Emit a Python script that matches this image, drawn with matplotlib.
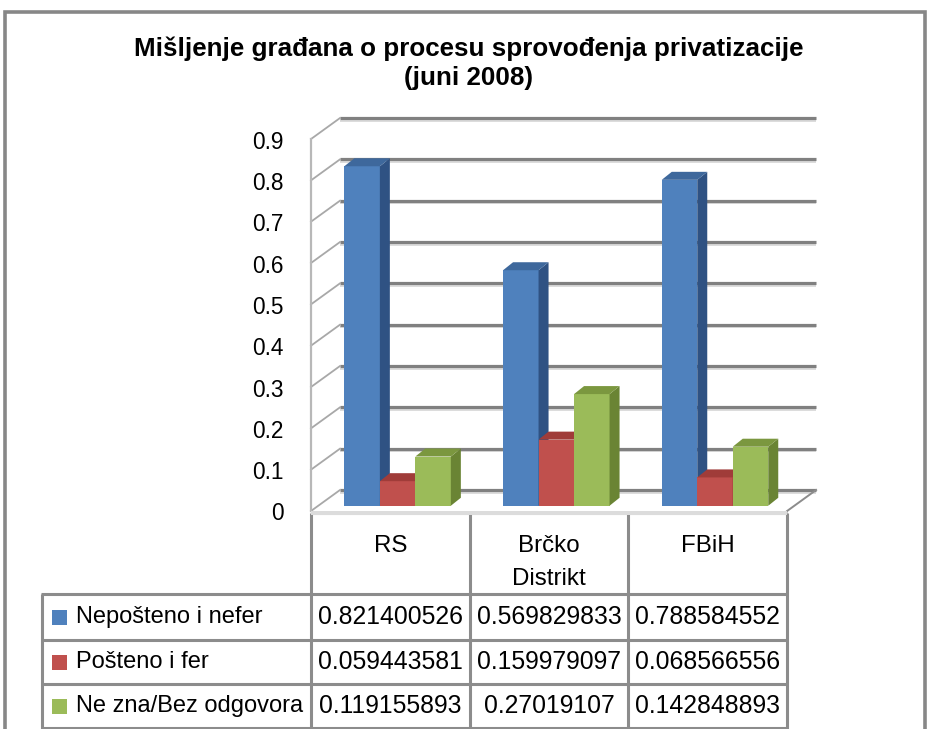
import matplotlib
matplotlib.use("Agg")
import matplotlib.pyplot as plt
from matplotlib.patches import Polygon, Rectangle
from matplotlib import font_manager as fm

# ---------------- data ----------------
title_text = "Mišljenje građana o procesu sprovođenja privatizacije\n(juni 2008)"
categories = ["RS", "Brčko Distrikt", "FBiH"]
series_names = ["Nepošteno i nefer", "Pošteno i fer", "Ne zna/Bez odgovora"]
nepsteno_i_nefer = [0.821400526, 0.569829833, 0.788584552]
posteno_i_fer = [0.059443581, 0.159979097, 0.068566556]
ne_zna_bez_odgovora = [0.119155893, 0.27019107, 0.142848893]
y_ticks = [0, 0.1, 0.2, 0.3, 0.4, 0.5, 0.6, 0.7, 0.8, 0.9]

series_values = [nepsteno_i_nefer, posteno_i_fer, ne_zna_bez_odgovora]

# ---------------- style ----------------
front_colors = ["#4F81BD", "#C0504D", "#9BBB59"]
side_colors = ["#2F5283", "#8C3230", "#6A8434"]
top_colors = ["#3E689C", "#A03C39", "#7B973F"]
grid_col = "#808080"
line_col = "#8C8C8C"

W_PX, H_PX, DPI = 940, 729, 100
fig = plt.figure(figsize=(W_PX / DPI, H_PX / DPI), dpi=DPI)
fig.patch.set_facecolor("white")

names = {f.name for f in fm.fontManager.ttflist}
if "Liberation Sans Narrow" in names:
    body_family = ["Liberation Sans Narrow", "DejaVu Sans"]
    k = 1.0 / 0.82
else:
    body_family = ["Liberation Sans", "DejaVu Sans"]
    k = 1.0
axis_size = 16.3 * k
cat_size = 17.4 * k
legend_size = 17.0 * k
value_size = 17.8 * k
title_family = ["Liberation Sans", "DejaVu Sans"]
title_size = 18.7

# ---------------- geometry (pixels) ----------------
PXC = 158.7   # pixels per category unit
PXV = 413.3   # pixels per value unit
X0 = 311.0    # pixel x of the floor's front-left corner
Y0 = 511.0    # pixel y (from top) of the floor's front edge

ax = fig.add_axes([0, 0, 1, 1])
ax.set_xlim(-0.5 - X0 / PXC, -0.5 + (W_PX - X0) / PXC)
ax.set_ylim((Y0 - H_PX) / PXV, Y0 / PXV)
ax.axis("off")
ax.set_facecolor("none")

ncat = len(categories)
nser = len(series_values)
x_lo, x_hi = -0.5, ncat - 0.5
DX, DY = 29 / PXC, 21 / PXV        # wall depth
BDX, BDY = 10 / PXC, 8 / PXV       # bar depth
SX, SY = 0.25 * DX, 0.25 * DY      # bars set back from floor front
BW = 35.5 / PXC                    # bar width

# walls and gridlines
for t in y_ticks:
    ax.plot([x_lo + DX, x_hi + DX], [t + DY - 2.5 / PXV] * 2, color="#D6D6D6",
            lw=1.2, solid_capstyle="butt", zorder=1)
    ax.plot([x_lo + DX, x_hi + DX], [t + DY] * 2, color=grid_col, lw=2.3,
            solid_capstyle="butt", zorder=2)
    ax.plot([x_lo, x_lo + DX], [t, t + DY], color="#A8A8A8", lw=1.3, zorder=2)
ax.plot([x_lo, x_lo], [0, y_ticks[-1]], color="#B8B8B8", lw=1.6, zorder=2)
ax.plot([x_hi, x_hi + DX], [0, DY], color="#8C8C8C", lw=1.4, zorder=2)
ax.add_patch(Rectangle((x_lo, -4 / PXV), x_hi - x_lo, 4 / PXV,
                       facecolor="#DCDCDC", edgecolor="none", zorder=2))

# bars
for j in range(ncat):
    for i in range(nser):
        v = series_values[i][j]
        xl = j + (i - nser / 2) * BW + SX
        xr = xl + BW
        top = SY + v
        z = 5 + j * 10 + i * 3
        ax.bar(xl, v, width=BW, bottom=SY, align="edge", color=front_colors[i],
               linewidth=0, zorder=z)
        ax.add_patch(Polygon([(xr, SY), (xr + BDX, SY + BDY), (xr + BDX, top + BDY),
                              (xr, top)], closed=True, facecolor=side_colors[i],
                             edgecolor="none", zorder=z + 1))
        ax.add_patch(Polygon([(xl, top), (xr, top), (xr + BDX, top + BDY),
                              (xl + BDX, top + BDY)], closed=True,
                             facecolor=top_colors[i], edgecolor="none", zorder=z + 2))

# value axis labels
for t in y_ticks:
    ax.text(x_lo - 27 / PXC, t - 3 / PXV, f"{t:g}", ha="right", va="center",
            fontsize=axis_size, family=body_family, color="black")

# ---------------- layout canvas (pixels) ----------------
tax = fig.add_axes([0, 0, 1, 1], zorder=-1)
tax.set_xlim(0, W_PX)
tax.set_ylim(H_PX, 0)
tax.axis("off")
tax.set_facecolor("none")

# chart border
tax.plot([5, 5, 925, 925], [H_PX + 10, 12, 12, H_PX + 10], color="#878787", lw=2.6,
         solid_joinstyle="miter")

# title
title_em = title_size * DPI / 72.0
tax.text(469, 36, title_text, ha="center", va="top", fontsize=title_size,
         weight="bold", family=title_family,
         linespacing=29.0 / (0.875 * title_em), color="black")

# data table
col_x = [X0 + kk * PXC for kk in range(ncat + 1)]
LX = 42
HT, HB = 513, 594
row_lines = [594, 640, 684, 728]
lw_t = 2.2
tax.plot([col_x[0], col_x[-1]], [HT, HT], color="#A6A6A6", lw=lw_t, solid_capstyle="butt")
for cx in col_x:
    tax.plot([cx, cx], [HT, H_PX + 5], color=line_col, lw=lw_t, solid_capstyle="butt")
tax.plot([LX, LX], [HB, H_PX + 5], color=line_col, lw=lw_t, solid_capstyle="butt")
for ry in row_lines:
    tax.plot([LX - 1, col_x[-1] + 1], [ry, ry], color=line_col, lw=lw_t,
             solid_capstyle="butt")

cat_em = cat_size * DPI / 72.0
ls_cat = 34.5 / (0.875 * cat_em)
for j, cat in enumerate(categories):
    cx = (col_x[j] + col_x[j + 1]) / 2
    tax.text(cx, 535, cat.replace(" ", "\n"), ha="center", va="top",
             fontsize=cat_size, family=body_family, linespacing=ls_cat, color="black")

for i, name in enumerate(series_names):
    rc = (row_lines[i] + row_lines[i + 1]) / 2
    tax.add_patch(Rectangle((52, rc - 7.5), 15, 15, facecolor=front_colors[i],
                            edgecolor="none"))
    tax.text(76, rc, name, ha="left", va="center", fontsize=legend_size,
             family=body_family, color="black")
    for j in range(ncat):
        cx = (col_x[j] + col_x[j + 1]) / 2
        label = f"{series_values[i][j]:.9f}".rstrip("0")
        tax.text(cx, rc, label, ha="center", va="center", fontsize=value_size,
                 family=body_family, color="black")

fig.savefig("out.png", dpi=DPI, facecolor="white")
